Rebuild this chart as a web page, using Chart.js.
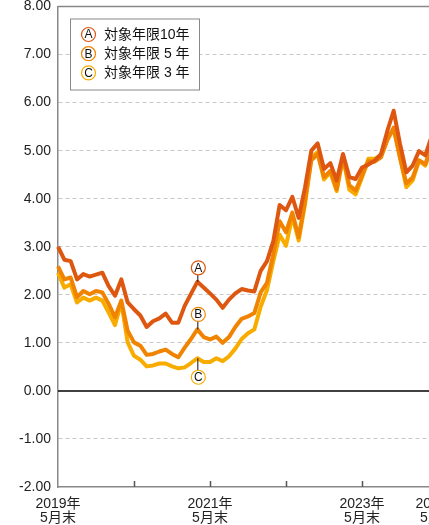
<!DOCTYPE html>
<html>
<head>
<meta charset="utf-8">
<script src="https://cdn.jsdelivr.net/npm/chart.js@4.4.1/dist/chart.umd.min.js"></script>
<style>
    html, body { margin: 0; padding: 0; overflow: hidden; background: #fff; }
    #wrap { width: 440px; height: 525px; }
</style>
</head>
<body>
<div id="wrap"><canvas id="chart" width="440" height="525"></canvas></div>
<script>
const FONT = '"Liberation Sans", "Noto Sans CJK JP", sans-serif';

// month-end labels, 2019/05 .. 2024/05
const months = [];
for (let y = 2019, m = 5; months.length < 61;) {
    months.push(y + '/' + String(m).padStart(2, '0'));
    if (++m > 12) { m = 1; y++; }
}

const tickMonths = ['2019/05', '2021/05', '2023/05', '2024/05'];
const tickText = [['2019年', '5月末'], ['2021年', '5月末'], ['2023年', '5月末'], ['2024年', '5月末']];

const seriesNames = ['対象年限10年', '対象年限 5 年', '対象年限 3 年'];
const seriesMarks = ['A', 'B', 'C'];
const seriesColors = ['#de5710', '#f08300', '#f8ac00'];

const yield10 = [
    3.00, 2.73, 2.70, 2.32, 2.43, 2.38, 2.42, 2.46, 2.18, 1.98,
    2.32, 1.84, 1.70, 1.57, 1.33, 1.45, 1.51, 1.61, 1.42, 1.42,
    1.77, 2.02, 2.27, 2.15, 2.03, 1.90, 1.73, 1.90, 2.03, 2.12,
    2.09, 2.07, 2.50, 2.70, 3.12, 3.87, 3.76, 4.04, 3.60, 4.23,
    5.00, 5.15, 4.62, 4.74, 4.38, 4.93, 4.45, 4.41, 4.65, 4.71,
    4.79, 4.93, 5.41, 5.83, 5.14, 4.55, 4.69, 4.99, 4.90, 5.30,
    5.22
];
const yield5 = [
    2.59, 2.32, 2.36, 1.95, 2.08, 2.01, 2.08, 2.05, 1.81, 1.53,
    1.88, 1.25, 1.01, 0.94, 0.75, 0.77, 0.82, 0.86, 0.77, 0.70,
    0.90, 1.08, 1.28, 1.12, 1.07, 1.13, 1.00, 1.12, 1.33, 1.50,
    1.55, 1.62, 2.05, 2.25, 2.85, 3.53, 3.30, 3.71, 3.20, 3.95,
    4.80, 4.93, 4.45, 4.58, 4.20, 4.87, 4.28, 4.17, 4.48, 4.78,
    4.77, 4.86, 5.22, 5.48, 4.85, 4.32, 4.44, 4.80, 4.72, 5.10,
    5.05
];
const yield3 = [
    2.46, 2.15, 2.22, 1.84, 1.94, 1.88, 1.94, 1.88, 1.63, 1.37,
    1.84, 1.01, 0.73, 0.65, 0.51, 0.53, 0.57, 0.57, 0.51, 0.47,
    0.49, 0.58, 0.68, 0.60, 0.60, 0.68, 0.62, 0.72, 0.88, 1.08,
    1.20, 1.28, 1.75, 2.10, 2.70, 3.25, 3.02, 3.64, 3.13, 3.88,
    4.86, 4.97, 4.40, 4.55, 4.16, 4.86, 4.19, 4.09, 4.44, 4.83,
    4.83, 4.90, 5.24, 5.45, 4.86, 4.24, 4.38, 4.79, 4.69, 5.05,
    5.00
];

// month where the A/B/C callouts sit
const calloutMonth = '2021/03';
const calloutOffsets = [-14, -15, 19];

const drawBadge = (ctx, x, y, letter, color) => {
    ctx.beginPath();
    ctx.arc(x, y, 7, 0, Math.PI * 2);
    ctx.fillStyle = '#fff';
    ctx.fill();
    ctx.lineWidth = 1.2;
    ctx.strokeStyle = color;
    ctx.stroke();
    ctx.fillStyle = '#111';
    ctx.font = '12px ' + FONT;
    ctx.textAlign = 'center';
    ctx.textBaseline = 'middle';
    ctx.fillText(letter, x, y + 0.5);
};

const decor = {
    id: 'decor',
    beforeDatasetsDraw(chart) {
        const {ctx, chartArea: area, scales: {x, y}} = chart;
        ctx.save();
        // top frame line
        ctx.strokeStyle = '#888';
        ctx.lineWidth = 1.5;
        ctx.beginPath();
        ctx.moveTo(area.left, y.getPixelForValue(8));
        ctx.lineTo(chart.width, y.getPixelForValue(8));
        ctx.stroke();
        // zero line
        ctx.strokeStyle = '#000';
        ctx.lineWidth = 1.5;
        ctx.beginPath();
        ctx.moveTo(area.left, y.getPixelForValue(0));
        ctx.lineTo(chart.width, y.getPixelForValue(0));
        ctx.stroke();
        // yearly tick marks pointing inward
        ctx.strokeStyle = '#555';
        ctx.lineWidth = 1.5;
        months.forEach((m, i) => {
            if (i === 0 || !m.endsWith('/05')) return;
            const px = Math.round(x.getPixelForValue(i)) + 0.5;
            ctx.beginPath();
            ctx.moveTo(px, area.bottom);
            ctx.lineTo(px, area.bottom - 6);
            ctx.stroke();
        });
        ctx.restore();
    },
    afterDatasetsDraw(chart) {
        const {ctx, chartArea: area} = chart;
        const idx = months.indexOf(calloutMonth);
        ctx.save();
        chart.data.datasets.forEach((ds, d) => {
            const pt = chart.getDatasetMeta(d).data[idx];
            const off = calloutOffsets[d];
            const cy = pt.y + off;
            ctx.strokeStyle = '#111';
            ctx.lineWidth = 1;
            ctx.beginPath();
            ctx.moveTo(pt.x + 0.5, pt.y);
            ctx.lineTo(pt.x + 0.5, cy - Math.sign(off) * 7);
            ctx.stroke();
            drawBadge(ctx, pt.x + 1, cy, seriesMarks[d], seriesColors[d]);
        });

        // legend box
        const bx = area.left + 12, by = area.top + 12;
        ctx.fillStyle = '#fff';
        ctx.fillRect(bx, by, 129, 71);
        ctx.strokeStyle = '#888';
        ctx.lineWidth = 1;
        ctx.strokeRect(bx + 0.5, by + 0.5, 129, 71);
        seriesNames.forEach((name, d) => {
            const ry = by + 16 + d * 19.2;
            drawBadge(ctx, bx + 18.5, ry, seriesMarks[d], seriesColors[d]);
            ctx.fillStyle = '#111';
            ctx.font = '14px ' + FONT;
            ctx.textAlign = 'left';
            ctx.textBaseline = 'middle';
            ctx.fillText(name, bx + 34, ry + 0.5);
        });
        ctx.restore();
    }
};

const makeSet = (i, values) => ({
    label: seriesNames[i],
    data: values,
    borderColor: seriesColors[i],
    borderWidth: 4,
    borderJoinStyle: 'round',
    pointRadius: 0,
    tension: 0,
    fill: false
});

window.onload = () => {
    const ctx = document.getElementById('chart').getContext('2d');
    new Chart(ctx, {
        type: 'line',
        data: {
            labels: months,
            datasets: [makeSet(0, yield10), makeSet(1, yield5), makeSet(2, yield3)]
        },
        options: {
            responsive: false,
            animation: false,
            devicePixelRatio: 1,
            layout: {padding: {top: 6.5, right: 2, left: 0, bottom: 0}},
            plugins: {legend: {display: false}, tooltip: {enabled: false}},
            scales: {
                x: {
                    offset: false,
                    grid: {display: false},
                    border: {display: true, color: '#888', width: 1.5},
                    ticks: {
                        autoSkip: false,
                        maxRotation: 0,
                        padding: 2,
                        color: '#222',
                        font: {family: FONT, size: 14, lineHeight: 1.0},
                        callback: (v, i) => tickText[tickMonths.indexOf(months[i])] || ''
                    },
                    afterFit: s => { s.height = 38; s.paddingLeft = 0; s.paddingRight = 0; }
                },
                y: {
                    min: -2,
                    max: 8,
                    ticks: {
                        stepSize: 1,
                        padding: 7,
                        color: '#222',
                        font: {family: FONT, size: 14},
                        callback: v => v.toFixed(2)
                    },
                    grid: {
                        drawTicks: false,
                        lineWidth: 1,
                        color: c => (c.tick && (c.tick.value === 0 || c.tick.value === 8 || c.tick.value === -2))
                            ? 'rgba(0,0,0,0)' : '#c8c8c8'
                    },
                    border: {display: true, color: '#888', width: 1.5, dash: [4, 3]},
                    afterFit: s => { s.width = 58; s.paddingTop = 0; s.paddingBottom = 0; }
                }
            }
        },
        plugins: [decor]
    });
};
</script>
</body>
</html>
